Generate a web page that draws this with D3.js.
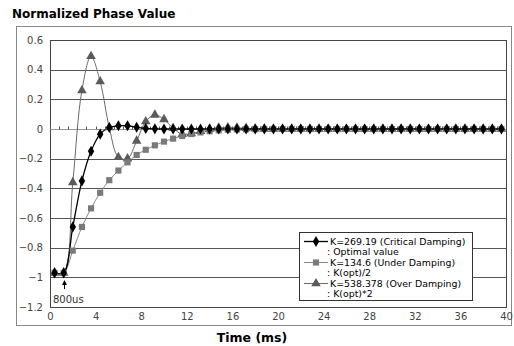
<!DOCTYPE html>
<html>
<head>
<meta charset="utf-8">
<script src="https://cdn.jsdelivr.net/npm/d3@7"></script>
<style>
  body { margin: 0; background: #fff; }
  svg { display: block; font-family: "DejaVu Sans", sans-serif; }
</style>
</head>
<body>
<svg id="chart" width="514" height="346"></svg>
<script>
// sample times (ms), one every 0.8 ms, centred in each category
const times = [0.4, 1.2, 2.0, 2.8, 3.6, 4.4, 5.2, 6.0, 6.8, 7.6,
  8.4, 9.2, 10.0, 10.8, 11.6, 12.4, 13.2, 14.0, 14.8, 15.6,
  16.4, 17.2, 18.0, 18.8, 19.6, 20.4, 21.2, 22.0, 22.8, 23.6,
  24.4, 25.2, 26.0, 26.8, 27.6, 28.4, 29.2, 30.0, 30.8, 31.6,
  32.4, 33.2, 34.0, 34.8, 35.6, 36.4, 37.2, 38.0, 38.8, 39.6];

const critical = [-0.97, -0.97, -0.66, -0.35, -0.15, -0.035, 0.01, 0.022, 0.022, 0.012,
  0.004, 0.001, 0, 0, 0, 0, 0, 0, 0, 0,
  0, 0, 0, 0, 0, 0, 0, 0, 0, 0,
  0, 0, 0, 0, 0, 0, 0, 0, 0, 0,
  0, 0, 0, 0, 0, 0, 0, 0, 0, 0];

const under = [-0.97, -0.97, -0.82, -0.66, -0.535, -0.43, -0.345, -0.28, -0.225, -0.175,
  -0.14, -0.11, -0.085, -0.065, -0.047, -0.034, -0.023, -0.015, -0.009, -0.005,
  -0.003, -0.002, -0.001, 0, 0, 0, 0, 0, 0, 0,
  0, 0, 0, 0, 0, 0, 0, 0, 0, 0,
  0, 0, 0, 0, 0, 0, 0, 0, 0, 0];

const over = [-0.97, -0.97, -0.36, 0.26, 0.49, 0.32, 0.01, -0.19, -0.2, -0.08,
  0.05, 0.095, 0.065, 0.005, -0.035, -0.03, -0.015, 0, 0.008, 0.01,
  0.008, 0.005, 0.002, 0.001, 0, 0, 0, 0, 0, 0,
  0, 0, 0, 0, 0, 0, 0, 0, 0, 0,
  0, 0, 0, 0, 0, 0, 0, 0, 0, 0];

const xTicks = [0, 4, 8, 12, 16, 20, 24, 28, 32, 36, 40];
const yTicks = [-1.2, -1, -0.8, -0.6, -0.4, -0.2, 0, 0.2, 0.4, 0.6];
const minorTicks = d3.range(0, 40.01, 0.8);

const seriesNames = [
  ['K=269.19 (Critical Damping)', ': Optimal value'],
  ['K=134.6 (Under Damping)', ': K(opt)/2'],
  ['K=538.378 (Over Damping)', ': K(opt)*2']
];

const series = [
  { values: critical, line: '#000', fill: '#000', shape: d3.symbolDiamond, size: 36, lw: 1.3 },
  { values: under, line: '#8a8a8a', fill: '#7a7a7a', shape: d3.symbolSquare, size: 38, lw: 1 },
  { values: over, line: '#6a6a6a', fill: '#5a5a5a', shape: d3.symbolTriangle, size: 40, lw: 1 }
];

const svg = d3.select('#chart');
const x = d3.scaleLinear().domain([0, 40]).range([50, 506]);
const y = d3.scaleLinear().domain([-1.2, 0.6]).range([307, 40]);

// outer frame
svg.append('rect').attr('x', 16.5).attr('y', 26.5).attr('width', 495).attr('height', 299)
  .attr('fill', 'none').attr('stroke', '#888');

svg.append('text').attr('x', 12).attr('y', 18)
  .attr('font-size', 12).attr('font-weight', 'bold').attr('fill', '#000')
  .text('Normalized Phase Value');

// gridlines
svg.append('g').selectAll('line').data(yTicks.filter(d => d !== 0)).join('line')
  .attr('x1', x(0)).attr('x2', x(40))
  .attr('y1', d => Math.round(y(d)) + 0.5).attr('y2', d => Math.round(y(d)) + 0.5)
  .attr('stroke', '#555');

// plot border
svg.append('rect').attr('x', x(0) + 0.5).attr('y', Math.round(y(0.6)) + 0.5)
  .attr('width', x(40) - x(0)).attr('height', Math.round(y(-1.2)) - Math.round(y(0.6)))
  .attr('fill', 'none').attr('stroke', '#444');

// horizontal axis at zero
const y0 = Math.round(y(0)) + 0.5;
svg.append('line').attr('x1', x(0)).attr('x2', x(40)).attr('y1', y0).attr('y2', y0)
  .attr('stroke', '#999').attr('stroke-width', 1);
svg.append('g').selectAll('line').data(minorTicks).join('line')
  .attr('x1', d => Math.round(x(d)) + 0.5).attr('x2', d => Math.round(x(d)) + 0.5)
  .attr('y1', y0 - 3).attr('y2', y0)
  .attr('stroke', '#555');

// axis labels via d3 axes
const yAxis = svg.append('g').attr('transform', `translate(${x(0)},0)`)
  .call(d3.axisLeft(y).tickValues(yTicks).tickSize(0).tickPadding(7)
    .tickFormat(d => d === 0 ? '0' : d3.format('')(+d.toFixed(1))));
yAxis.select('.domain').remove();
yAxis.selectAll('text').attr('font-size', 10).attr('fill', '#444')
  .attr('font-family', '"DejaVu Sans", sans-serif');

const xAxis = svg.append('g').attr('transform', `translate(0,${y(-1.2)})`)
  .call(d3.axisBottom(x).tickValues(xTicks).tickSize(0).tickPadding(6));
xAxis.select('.domain').remove();
xAxis.selectAll('text').attr('font-size', 10).attr('fill', '#444')
  .attr('font-family', '"DejaVu Sans", sans-serif');

svg.append('text').attr('x', 252).attr('y', 342).attr('text-anchor', 'middle')
  .attr('font-size', 12.5).attr('font-weight', 'bold').text('Time (ms)');

// series (smoothed lines like the source)
const line = d3.line().curve(d3.curveCatmullRom.alpha(0.5))
  .x((d, i) => x(times[i])).y(d => y(d));
const plot = svg.append('g');
series.slice().reverse().forEach(s => {
  plot.append('path').datum(s.values).attr('d', line)
    .attr('fill', 'none').attr('stroke', s.line).attr('stroke-width', s.lw);
});
series.slice().reverse().forEach(s => {
  plot.append('g').selectAll('path').data(s.values).join('path')
    .attr('transform', (d, i) => `translate(${x(times[i])},${y(d)})`)
    .attr('d', d3.symbol().type(s.shape).size(s.size))
    .attr('fill', s.fill);
});

// 800us annotation
svg.append('line').attr('x1', 64.5).attr('x2', 64.5).attr('y1', 289).attr('y2', 282)
  .attr('stroke', '#000');
svg.append('path').attr('d', 'M64.5,280 L62,285 L67,285 Z').attr('fill', '#000');
svg.append('text').attr('x', 53).attr('y', 303).attr('font-size', 10).attr('fill', '#333')
  .text('800us');

// legend
const lg = svg.append('g');
lg.append('rect').attr('x', 299.5).attr('y', 232.5).attr('width', 173).attr('height', 68)
  .attr('fill', '#fff').attr('stroke', '#333');
seriesNames.forEach((names, k) => {
  const cy = 241 + k * 21;
  lg.append('line').attr('x1', 304).attr('x2', 328).attr('y1', cy + 0.5).attr('y2', cy + 0.5)
    .attr('stroke', series[k].line).attr('stroke-width', series[k].lw);
  lg.append('path').attr('transform', `translate(316,${cy + 0.5})`)
    .attr('d', d3.symbol().type(series[k].shape).size(series[k].size)).attr('fill', series[k].fill);
  lg.append('text').attr('x', 330).attr('y', cy + 3.5).attr('font-size', 9.4).text(names[0]);
  lg.append('text').attr('x', 327).attr('y', cy + 14).attr('font-size', 9.4).text(names[1]);
});
</script>
</body>
</html>
